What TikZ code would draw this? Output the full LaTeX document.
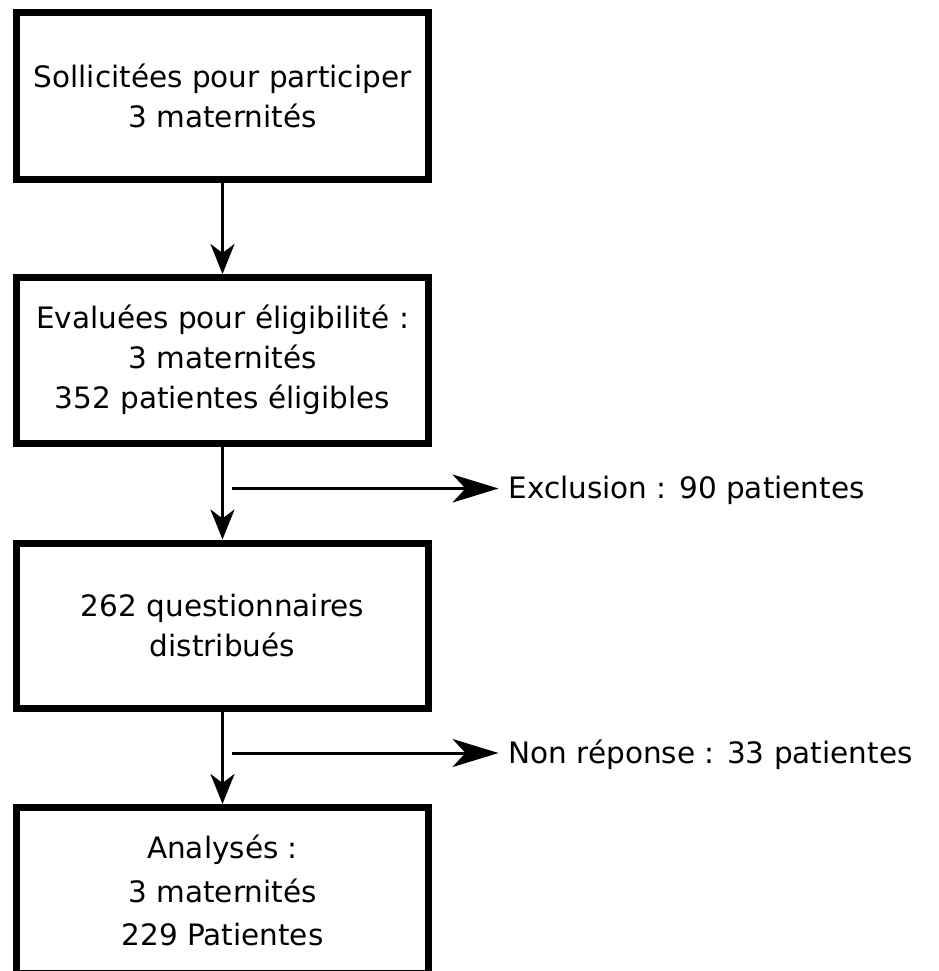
\documentclass[tikz,border=0pt]{standalone}
\usepackage{fontspec}
\setmainfont{DejaVu Sans}
\usetikzlibrary{arrows.meta}
\begin{document}
\begin{tikzpicture}[x=1pt,y=-1pt,
  flowbox/.style={draw=black, line width=7pt, minimum width=412pt, align=center, inner sep=0pt,
    font=\fontsize{29.5}{40}\selectfont},
  varrow/.style={line width=3pt, -{Stealth[length=30pt,width=24pt,inset=9pt]}},
  harrow/.style={line width=3pt, -{Stealth[length=46pt,width=28pt,inset=13pt]}},
  sidetext/.style={anchor=west, inner xsep=10pt, inner ysep=0pt, outer sep=0pt,
    font=\fontsize{29.5}{40}\selectfont}]
\useasboundingbox (0,0) rectangle (938,971);
\clip (0,0) rectangle (938,971);
\node[flowbox, minimum height=167pt] (b1) at (222.5,96) {Sollicitées pour participer\\3 maternités};
\node[flowbox, minimum height=165.5pt] (b2) at (222.5,360.25) {Evaluées pour éligibilité :\\3 maternités\\352 patientes éligibles};
\node[flowbox, minimum height=165.5pt] (b3) at (222.5,625.75) {262 questionnaires\\distribués};
\node[flowbox, minimum height=166pt, font=\fontsize{29.5}{43.5}\selectfont] (b4) at (222.5,890.5) {Analysés :\\3 maternités\\229 Patientes};
\draw[varrow] (b1.south) -- (b2.north);
\draw[varrow] (b2.south) -- (b3.north);
\draw[varrow] (b3.south) -- (b4.north);
\coordinate (e1) at (232,488.5);
\coordinate (e2) at (232,753);
\node[sidetext] (t1) at (498.5,490) {Exclusion : 90 patientes};
\node[sidetext] (t2) at (498.5,754.5) {Non réponse : 33 patientes};
\draw[harrow] (e1) -- (e1 -| t1.west);
\draw[harrow] (e2) -- (e2 -| t2.west);
\end{tikzpicture}
\end{document}
